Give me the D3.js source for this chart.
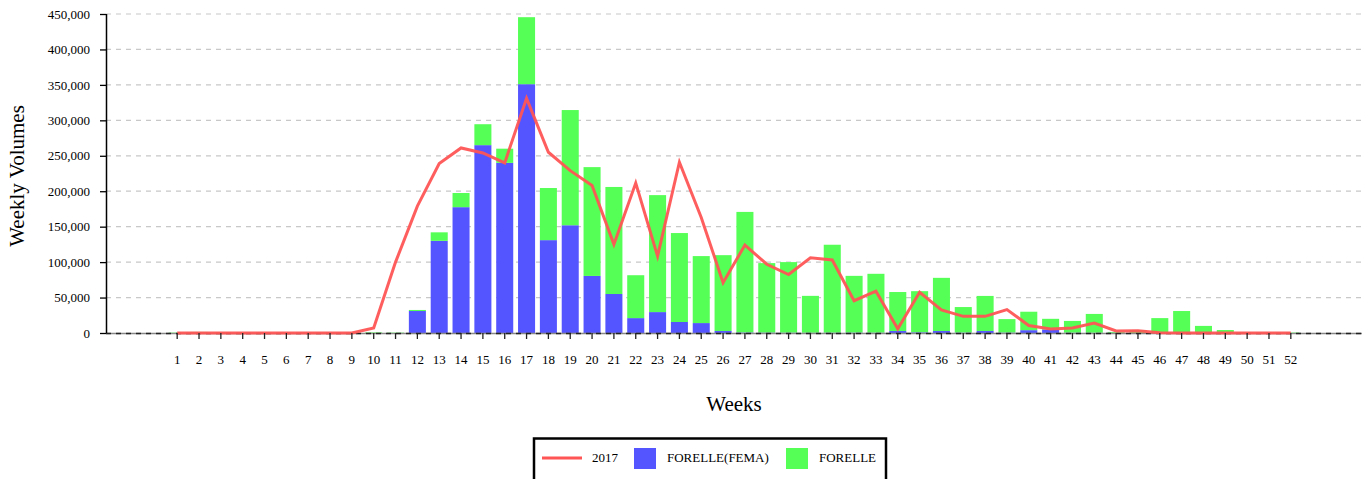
<!DOCTYPE html>
<html>
<head>
<meta charset="utf-8">
<script src="https://cdn.jsdelivr.net/npm/d3@7"></script>
<style>
  body { margin: 0; background: #fff; }
  text { font-family: "Liberation Serif", "Times New Roman", serif; fill: #000; }
</style>
</head>
<body>
<svg id="chart" width="1364" height="479"></svg>
<script>
// week numbers on the x axis
const weeks = [1,2,3,4,5,6,7,8,9,10,11,12,13,14,15,16,17,18,19,20,21,22,23,24,25,26,
  27,28,29,30,31,32,33,34,35,36,37,38,39,40,41,42,43,44,45,46,47,48,49,50,51,52]
// FORELLE(FEMA) volumes (bottom of the stack)
const fema = [0,0,0,0,0,0,0,0,0,0,0,31000,130000,177500,265000,240000,351000,131000,152000,80500,55000,21000,29500,15500,14000,2800,
  800,600,500,400,500,600,500,2800,1000,2800,600,2800,600,4000,5000,500,400,300,200,0,0,0,0,0,0,0]
// FORELLE volumes (stacked on top)
const forelle = [500,1500,500,300,300,300,300,300,300,800,500,1500,12000,20000,29500,20000,94500,73500,162500,153500,151000,60500,165000,125500,94500,107000,
  170000,98000,99500,52000,124000,80000,83000,55000,58000,75000,36000,49500,19000,26000,15000,16500,26500,1200,4000,21000,31000,10000,4200,500,400,600]
// 2017 weekly volumes (line)
const y2017 = [0,0,0,0,0,0,0,0,0,7000,100000,179000,239000,261000,254000,240000,331000,255000,229000,208000,125000,211500,108500,241000,163000,71000,
  124000,97000,82500,106000,103000,45500,59000,6000,57500,32500,23500,23500,33000,10500,5500,7000,14000,2800,3000,500,0,0,0,0,0,0]
const yTicks = [0,50000,100000,150000,200000,250000,300000,350000,400000,450000]
const legendItems = [
  { label: "2017", kind: "line", color: "#ff5555" },
  { label: "FORELLE(FEMA)", kind: "box", color: "#5555ff" },
  { label: "FORELLE", kind: "box", color: "#55ff55" }
]

const svg = d3.select("#chart")
const plotLeft = 106, plotRight = 1362, plotTop = 14, plotBottom = 333

let x = d3.scaleBand().domain(weeks).range([plotLeft, plotRight]).paddingInner(0.22).paddingOuter(2.87)
let y = d3.scaleLinear().domain([0, 450000]).range([plotBottom, plotTop])

// dashed gridlines
svg.append("g").selectAll("line").data(yTicks.filter(d => d > 0)).join("line")
  .attr("x1", plotLeft).attr("x2", plotRight)
  .attr("y1", d => y(d)).attr("y2", d => y(d))
  .attr("stroke", "#c8c8c8").attr("stroke-width", 1.2).attr("stroke-dasharray", "5,5")

// stacked bars
let rows = weeks.map((w, i) => ({ week: w, fema: fema[i], forelle: forelle[i] }))
let stack = d3.stack().keys(["fema", "forelle"])(rows)
let colors = { fema: "#5555ff", forelle: "#55ff55" }
svg.append("g").selectAll("g").data(stack).join("g")
  .attr("fill", d => colors[d.key])
  .selectAll("rect").data(d => d).join("rect")
  .attr("x", d => x(d.data.week))
  .attr("width", x.bandwidth())
  .attr("y", d => y(d[1]))
  .attr("height", d => y(d[0]) - y(d[1]))

// x axis: grey domain with dark dashed zero line on top
svg.append("line").attr("x1", plotLeft).attr("x2", plotRight).attr("y1", plotBottom + 0.5).attr("y2", plotBottom + 0.5)
  .attr("stroke", "#888").attr("stroke-width", 1.5)
svg.append("line").attr("x1", plotLeft).attr("x2", plotRight).attr("y1", plotBottom + 0.5).attr("y2", plotBottom + 0.5)
  .attr("stroke", "#222").attr("stroke-width", 1.5).attr("stroke-dasharray", "5,5")

// 2017 line
let line = d3.line().x((d, i) => x(weeks[i]) + x.bandwidth() / 2).y(d => y(d))
svg.append("path").datum(y2017)
  .attr("d", line).attr("fill", "none")
  .attr("stroke", "#ff5555").attr("stroke-width", 3).attr("stroke-opacity", 0.95)

let xAxis = svg.append("g").attr("transform", `translate(0,${plotBottom})`)
  .call(d3.axisBottom(x).tickSize(6).tickPadding(16))
xAxis.select(".domain").remove()
xAxis.selectAll("line").attr("stroke", "#222").attr("stroke-width", 1.3)
xAxis.selectAll("text").attr("font-size", 13).attr("font-family", "Liberation Serif")

let yAxis = svg.append("g").attr("transform", `translate(${plotLeft},0)`)
  .call(d3.axisLeft(y).tickValues(yTicks).tickFormat(d3.format(",")).tickSize(6).tickPadding(10))
yAxis.select(".domain").attr("stroke", "#000").attr("stroke-width", 1.5).attr("d", `M0.5,${plotTop}V${plotBottom}`)
yAxis.selectAll("line").attr("stroke", "#000").attr("stroke-width", 1.3)
yAxis.selectAll("text").attr("font-size", 13).attr("font-family", "Liberation Serif")

// axis titles
svg.append("text").attr("x", (plotLeft + plotRight) / 2).attr("y", 411)
  .attr("text-anchor", "middle").attr("font-size", 21).text("Weeks")
svg.append("text").attr("transform", "translate(24,176) rotate(-90)")
  .attr("text-anchor", "middle").attr("font-size", 21).text("Weekly Volumes")

// legend
svg.append("rect").attr("x", 534).attr("y", 438.5).attr("width", 352).attr("height", 45)
  .attr("fill", "#fff").attr("stroke", "#000").attr("stroke-width", 2.5)
let lx = [542, 634, 786]
let lg = svg.append("g").selectAll("g").data(legendItems).join("g")
  .attr("transform", (d, i) => `translate(${lx[i]},0)`)
lg.filter(d => d.kind == "line").append("line")
  .attr("x1", 0).attr("x2", 40).attr("y1", 458).attr("y2", 458)
  .attr("stroke", d => d.color).attr("stroke-width", 3)
lg.filter(d => d.kind == "box").append("rect")
  .attr("x", 0).attr("y", 448).attr("width", 22).attr("height", 21).attr("fill", d => d.color)
lg.append("text").attr("x", d => d.kind == "line" ? 50 : 33).attr("y", 462)
  .attr("font-size", 13).text(d => d.label)
</script>
</body>
</html>
